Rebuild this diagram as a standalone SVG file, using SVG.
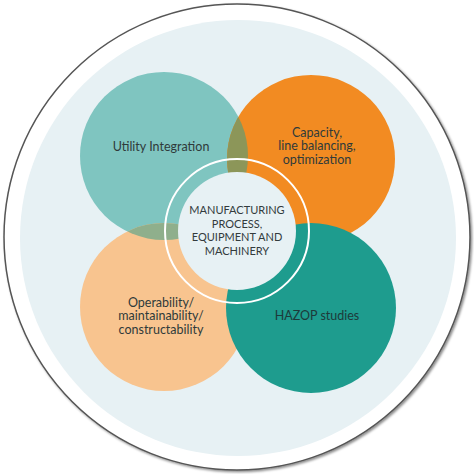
<svg xmlns="http://www.w3.org/2000/svg" width="474" height="474" viewBox="0 0 474 474">
<defs>
<style>
.t{font-family:Lato,"Open Sans","Noto Sans",sans-serif;font-size:12.5px;text-anchor:middle;fill:#2f3a3a}
.c{font-family:Lato,"Open Sans","Noto Sans",sans-serif;font-size:11px;text-anchor:middle;fill:#333b3d}
</style>
<filter id="sh" x="-10%" y="-10%" width="120%" height="120%">
<feDropShadow dx="1.5" dy="1.5" stdDeviation="1.2" flood-color="#000" flood-opacity="0.45"/>
</filter>
<clipPath id="cTeal"><circle cx="164" cy="156" r="84"/></clipPath>
</defs>
<rect width="474" height="474" fill="#ffffff"/>
<g id="frame">
<circle cx="237" cy="237" r="233" fill="#ffffff" stroke="#555" stroke-width="1.5" filter="url(#sh)"/>
<circle cx="238" cy="238" r="218" fill="#e7f1f4"/>
</g>
<g id="node-utility">
<circle cx="164" cy="156" r="84" fill="#7fc5c0"/>
</g>
<g id="node-capacity">
<circle cx="311" cy="159" r="84" fill="#f28b22"/>
<circle cx="311" cy="159" r="84" fill="#8c9659" clip-path="url(#cTeal)"/>
</g>
<g id="node-operability">
<circle cx="164" cy="307" r="84" fill="#f8c48f"/>
<circle cx="164" cy="307" r="84" fill="#8faf8c" clip-path="url(#cTeal)"/>
</g>
<g id="node-hazop">
<circle cx="311" cy="308" r="85" fill="#1e9c8e"/>
</g>
<g id="node-center">
<circle cx="237" cy="231" r="72" fill="none" stroke="#ffffff" stroke-width="2"/>
<circle cx="237" cy="231" r="59" fill="#e7f1f4"/>
<text class="c" x="237" y="214">MANUFACTURING</text>
<text class="c" x="237" y="227.5">PROCESS,</text>
<text class="c" x="237" y="241">EQUIPMENT AND</text>
<text class="c" x="237" y="254.5">MACHINERY</text>
</g>
<g id="labels">
<text class="t" x="161" y="150.5">Utility Integration</text>
<text class="t" x="317" y="136.5">Capacity,</text>
<text class="t" x="317" y="150">line balancing,</text>
<text class="t" x="317" y="163.5">optimization</text>
<text class="t" x="161" y="306.5">Operability/</text>
<text class="t" x="161" y="320">maintainability/</text>
<text class="t" x="161" y="333.5">constructability</text>
<text class="t" x="317" y="319.5" style="fill:#1d3a3a">HAZOP studies</text>
</g>
<g id="connectors"/>
</svg>
